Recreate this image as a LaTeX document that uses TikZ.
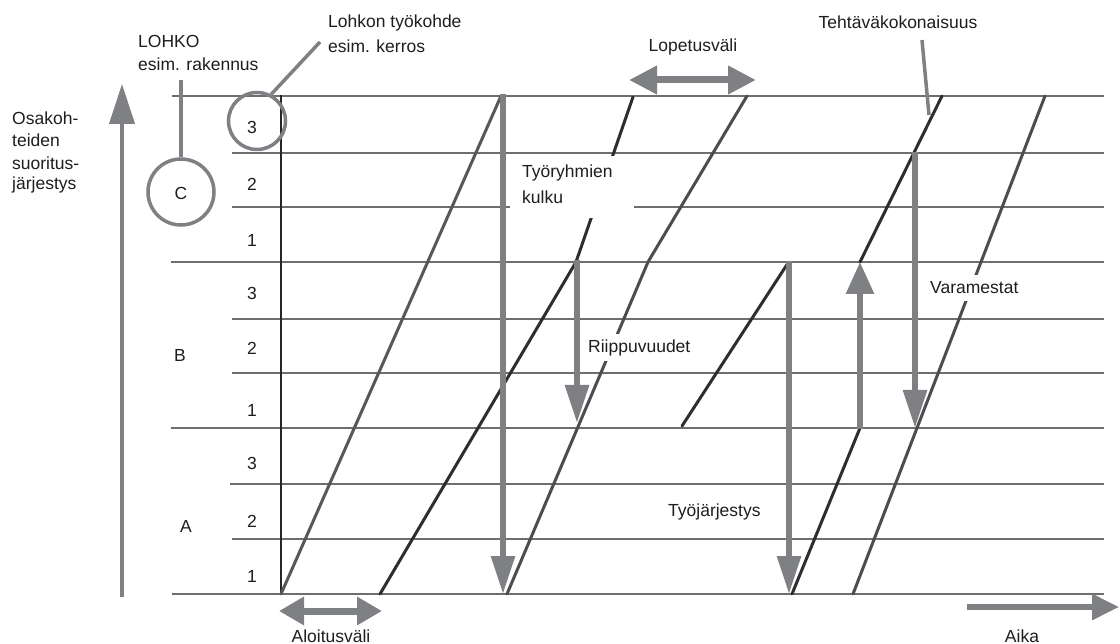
\documentclass[tikz,border=0pt]{standalone}
\usepackage{fontspec}
\setmainfont{Liberation Sans}
\usetikzlibrary{arrows.meta}
\definecolor{arrgray}{HTML}{7F8084}
\definecolor{gridgray}{HTML}{6E6E6E}
\definecolor{workline}{HTML}{2E2E2E}
\definecolor{txt}{HTML}{1E1E1E}
\begin{document}
\begin{tikzpicture}[x=1pt,y=-1pt,
  lbl/.style={font=\fontsize{17.5}{21}\selectfont, text=txt, inner sep=0pt},
  gridline/.style={gridgray, line width=1.4pt},
  workln/.style={workline, line width=3pt, line cap=round},
  garrow/.style={arrgray, line width=6pt, -{Triangle[length=38pt,width=23pt]}},
  twoway/.style={arrgray, line width=7pt, {Triangle[length=28pt,width=27pt]}-{Triangle[length=28pt,width=27pt]}},
  pointer/.style={arrgray, line width=3.5pt},
  ring/.style={circle, draw=arrgray, line width=3.5pt, inner sep=0pt}]
\useasboundingbox (0,0) rectangle (1120,644);
\fill[white] (0,0) rectangle (1120,644);

% grid lines
\foreach \yy/\xs in {96/172,153/232,207/232,262/171,319/232,373/232,428/171,484/230,539/232,594/172}
  \draw[gridline] (\xs,\yy) -- (1104,\yy);
% vertical base line
\coordinate (v0) at (281,594); \coordinate (v1) at (281,95);
\draw[black!85, line width=1.3pt] (v0) -- (v1);

% work lines
\coordinate (l1a) at (281,594); \coordinate (l1b) at (501,96);
\coordinate (l2a) at (380,594); \coordinate (l2b) at (576,262); \coordinate (l2c) at (633,97);
\coordinate (l3a) at (507,594); \coordinate (l3b) at (648,262); \coordinate (l3c) at (747,96);
\coordinate (l4a) at (682,426); \coordinate (l4b) at (788,263);
\coordinate (l5a) at (792,594); \coordinate (l5b) at (860,428);
\coordinate (l6a) at (860,262); \coordinate (l6b) at (942,96);
\coordinate (l7a) at (853,594); \coordinate (l7b) at (1045,96);
\draw[workln, workline!80!white] (l1a) -- (l1b);
\draw[workln] (l2a) -- (l2b) -- (l2c);
\draw[workln, workline!85!white] (l3a) -- (l3b) -- (l3c);
\draw[workln] (l4a) -- (l4b);
\draw[workln] (l5a) -- (l5b);
\draw[workln] (l6a) -- (l6b);
\draw[workln, workline!85!white] (l7a) -- (l7b);

% white patches behind labels
\fill[white] (510,156) rectangle (634,218);
\fill[white] (586,334) rectangle (697,361);
\fill[white] (928,275) rectangle (1022,301);

% labels
\node[lbl, anchor=west] (kulku1) at (522,173) {Työryhmien};
\node[lbl, anchor=west] (kulku2) at (522,197) {kulku};
\node[lbl, anchor=west] (riip) at (588,348) {Riippuvuudet};
\node[lbl, anchor=west] (tyoj) at (668,512) {Työjärjestys};
\node[lbl, anchor=west] (vara) at (930,288) {Varamestat};
\node[lbl] (teht) at (898,22) {Tehtäväkokonaisuus};
\node[lbl] (lopv) at (693,47) {Lopetusväli};
\node[lbl] (alov) at (331,636) {Aloitusväli};
\node[lbl] (aika) at (1022,636) {Aika};
\node[lbl, anchor=west] (lohko1) at (138,41) {LOHKO};
\node[lbl, anchor=west] (lohko2) at (138,64) {esim. rakennus};
\node[lbl, anchor=west] (tk1) at (328,23) {Lohkon työkohde};
\node[lbl, anchor=west] (tk2) at (328,46) {esim. kerros};
\node[lbl, anchor=west] (os1) at (12,118) {Osakoh-};
\node[lbl, anchor=west] (os2) at (12,140) {teiden};
\node[lbl, anchor=west] (os3) at (12,163) {suoritus-};
\node[lbl, anchor=west] (os4) at (12,185) {järjestys};

% row numbers
\foreach \yy/\n [count=\i] in {127/3,184/2,240/1,293/3,348/2,410/1,463/3,521/2,576/1}
  \node[lbl] (r\i) at (252,\yy) {\n};
\node[lbl] (bB) at (180,355) {B};
\node[lbl] (bA) at (186,526) {A};

% circles
\node[ring, minimum size=66pt] (cC) at (181,192) {};
\node[lbl] (lC) at (181,193) {C};
\node[ring, minimum size=57pt] (c3) at (257,121) {};
\coordinate (p1) at (181,80);
\draw[pointer] (p1) -- (cC.north);
\coordinate (p2) at (320,42);
\draw[pointer] (p2) -- (c3.62);
\coordinate (p3) at (922,40); \coordinate (p4) at (929,115);
\draw[pointer] (p3) -- (p4);

% gray arrows
\coordinate (a1s) at (503,94); \coordinate (a1e) at (503,594);
\coordinate (a2s) at (577,260); \coordinate (a2e) at (577,423);
\coordinate (a3s) at (789,261); \coordinate (a3e) at (789,594);
\coordinate (a4s) at (860,429); \coordinate (a4e) at (860,262);
\coordinate (a5s) at (915,152); \coordinate (a5e) at (915,428);
\draw[garrow] (a1s) -- (a1e);
\draw[garrow] (a2s) -- (a2e);
\draw[garrow] (a3s) -- (a3e);
\draw[garrow, -{Triangle[length=32pt,width=27pt]}] (a4s) -- (a4e);
\draw[garrow] (a5s) -- (a5e);

% interval arrows
\coordinate (lo1) at (629,80); \coordinate (lo2) at (756,80);
\draw[twoway] (lo1) -- (lo2);
\coordinate (al1) at (279,611); \coordinate (al2) at (382,611);
\draw[twoway, {Triangle[length=25pt,width=27pt]}-{Triangle[length=25pt,width=27pt]}] (al1) -- (al2);
\coordinate (ai1) at (967,607); \coordinate (ai2) at (1119,607);
\draw[arrgray, line width=6pt, -{Triangle[length=27pt,width=25pt]}] (ai1) -- (ai2);
% vertical axis
\coordinate (ax1) at (122,597); \coordinate (ax2) at (122,84);
\draw[arrgray, line width=4pt, -{Triangle[length=40pt,width=25pt]}] (ax1) -- (ax2);
\end{tikzpicture}
\end{document}
